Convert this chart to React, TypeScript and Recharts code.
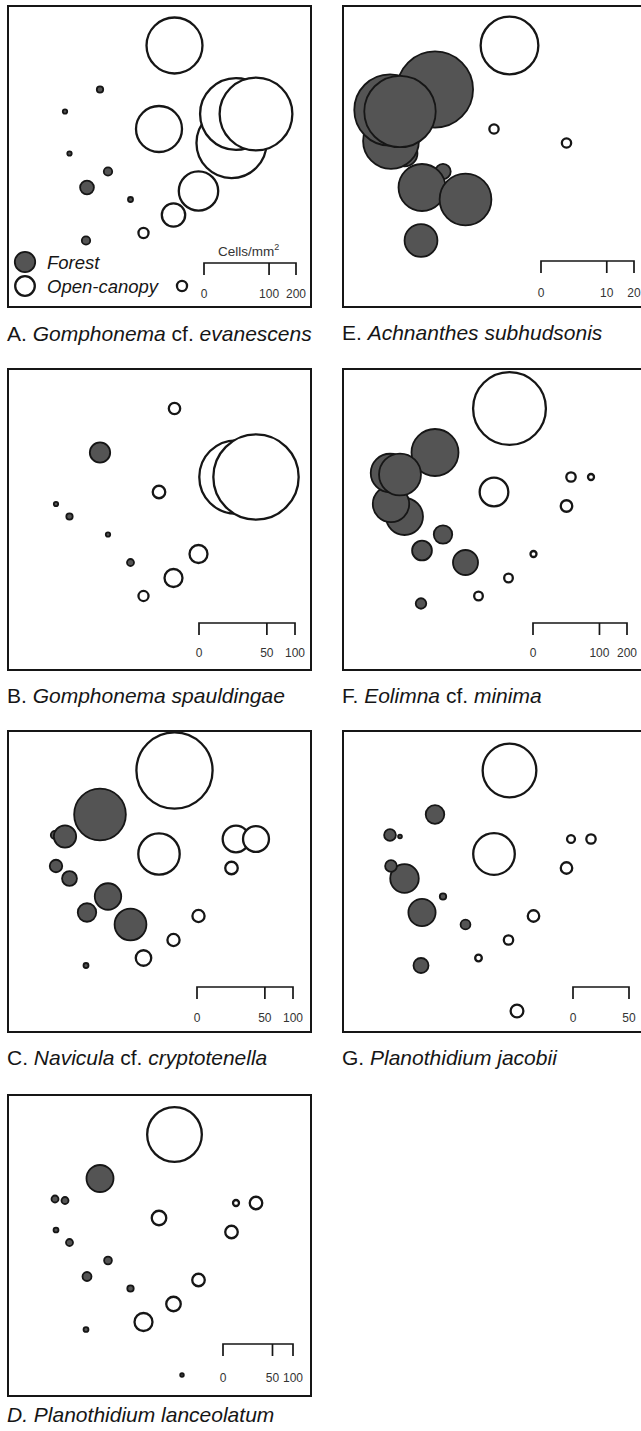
import React from "react";
import { ScatterChart, Scatter, XAxis, YAxis, ZAxis } from "recharts";

// map frame size (site coordinates are measured from the frame's top-left corner)
const FRAME_W = 305;
const FRAME_H = 303;

// forest sites, in drawing order
const forestSites = ["Fa", "Fd", "Fc", "Fb2", "Fb1", "Fe", "Ff", "Fg", "Fh"];
const forestEast = [93, 62.5, 49, 48, 58, 101, 80, 123.5, 79];
const forestSouth = [84.5, 148.5, 136, 105, 106.5, 166.5, 182.5, 194.5, 235.5];

// open-canopy sites, in drawing order
const openSites = ["O4", "O3a", "O3b", "O1", "O2", "O5", "O6", "O7", "O8"];
const openEast = [224.5, 229, 249, 167.5, 152, 191.5, 166.5, 136.5, 175];
const openSouth = [138, 109, 109, 40.5, 124, 186, 210, 228, 281];

// cells/mm2 at each site (same order as the site arrays)
const evanescensForest = [0.97, 0.46, 0, 0, 0.46, 1.67, 4.5, 0.6, 1.67];
const evanescensOpen = [116, 122, 125, 74, 50, 36.7, 12.9, 2.4, 2.4];

const spauldingaeForest = [4.5, 0.44, 0.21, 0, 0, 0.21, 0, 0.53, 0];
const spauldingaeOpen = [0, 58.5, 79, 1.4, 1.7, 3.5, 3.5, 1.1, 0];

const cryptotenellaForest = [29, 2.4, 1.7, 0.77, 5.4, 7.6, 3.7, 11, 0.27];
const cryptotenellaOpen = [1.7, 7.7, 7.3, 63, 18.6, 1.6, 1.6, 2.6, 0];

const lanceolatumForest = [14.9, 1.0, 0.5, 1.0, 1.0, 1.24, 1.65, 0.84, 0.5];
const lanceolatumOpen = [3.2, 0.73, 3.2, 61, 4.3, 3.2, 4.3, 6.6, 0.2];

const subhudsonisForest = [13.4, 1.55, 7.2, 11.8, 11.8, 0.55, 5.1, 6.2, 2.5];
const subhudsonisOpen = [0.2, 0, 0, 7.7, 0.2, 0, 0, 0, 0];

const minimaForest = [50, 31, 30, 33.6, 39.8, 7.7, 8.9, 14.2, 2.5];
const minimaOpen = [3.0, 2.0, 0.82, 120, 18.6, 0.82, 1.7, 1.7, 0];

const jacobiiForest = [5.5, 13, 2.2, 2.2, 0.23, 0.66, 11.8, 1.55, 3.6];
const jacobiiOpen = [2.1, 1.0, 1.4, 46, 27.6, 2.1, 1.4, 0.7, 2.6];

// scale bar ticks (cells/mm2)
const ticksA = [0, 100, 200];
const ticksB = [0, 50, 100];
const ticksC = [0, 50, 100];
const ticksD = [0, 50, 100];
const ticksE = [0, 10, 20];
const ticksF = [0, 100, 200];
const ticksG = [0, 50];

type Part = [string, boolean];

const panels = [
  {
    id: "A", left: 7, top: 5, base: 341,
    caption: [["A. ", false], ["Gomphonema", true], [" cf. ", false], ["evanescens", true]] as Part[],
    forest: evanescensForest, open: evanescensOpen, ticks: ticksA,
    bar: { x: 197, y: 258, len: 92, labelY: 293 }, legend: true,
  },
  {
    id: "B", left: 7, top: 368, base: 703,
    caption: [["B. ", false], ["Gomphonema spauldingae", true]] as Part[],
    forest: spauldingaeForest, open: spauldingaeOpen, ticks: ticksB,
    bar: { x: 192, y: 255, len: 96, labelY: 289 },
  },
  {
    id: "C", left: 7, top: 730, base: 1065,
    caption: [["C. ", false], ["Navicula", true], [" cf. ", false], ["cryptotenella", true]] as Part[],
    forest: cryptotenellaForest, open: cryptotenellaOpen, ticks: ticksC,
    bar: { x: 190, y: 257, len: 96, labelY: 292 },
  },
  {
    id: "D", left: 7, top: 1094, base: 1422,
    caption: [["D. Planothidium lanceolatum", true]] as Part[],
    forest: lanceolatumForest, open: lanceolatumOpen, ticks: ticksD,
    bar: { x: 216, y: 250, len: 70, labelY: 288 },
  },
  {
    id: "E", left: 342, top: 5, base: 340,
    caption: [["E. ", false], ["Achnanthes subhudsonis", true]] as Part[],
    forest: subhudsonisForest, open: subhudsonisOpen, ticks: ticksE,
    bar: { x: 199, y: 256, len: 93, labelY: 292 },
  },
  {
    id: "F", left: 342, top: 368, base: 703,
    caption: [["F. ", false], ["Eolimna", true], [" cf. ", false], ["minima", true]] as Part[],
    forest: minimaForest, open: minimaOpen, ticks: ticksF,
    bar: { x: 191, y: 255, len: 94, labelY: 289 },
  },
  {
    id: "G", left: 342, top: 730, base: 1065,
    caption: [["G. ", false], ["Planothidium jacobii", true]] as Part[],
    forest: jacobiiForest, open: jacobiiOpen, ticks: ticksG,
    bar: { x: 231, y: 257, len: 56, labelY: 292 },
  },
];

const FONT = "'Liberation Sans', Arial, Helvetica, sans-serif";
const INK = "#161616";
const FOREST_FILL = "#545454";

const bubble = (fill: string, strokeWidth: number) => (props: any) => {
  const r =
    props.width != null
      ? props.width / 2
      : Math.sqrt(Math.max(props.size || 0, 0) / Math.PI);
  return (
    <circle
      cx={props.cx}
      cy={props.cy}
      r={r}
      fill={fill}
      stroke={INK}
      strokeWidth={strokeWidth}
    />
  );
};

const forestShape = bubble(FOREST_FILL, 1.8);
const openShape = bubble("#ffffff", 2.3);

function MapPanel({ p }: { p: (typeof panels)[number] }) {
  const max = p.ticks[p.ticks.length - 1];
  // scale bar length = diameter of a max-value circle
  const maxArea = Math.PI * (p.bar.len / 2) ** 2;
  const diam = (v: number) => p.bar.len * Math.sqrt(v / max);

  const forestData = forestSites
    .map((site, i) => ({ site, x: forestEast[i], y: forestSouth[i], z: p.forest[i] }))
    .filter((d) => d.z > 0);
  const openData = openSites
    .map((site, i) => ({ site, x: openEast[i], y: openSouth[i], z: p.open[i] }))
    .filter((d) => d.z > 0);

  const { x, y, len, labelY } = p.bar;
  const tickLen = 12;

  return (
    <div
      style={{
        position: "absolute",
        left: p.left,
        top: p.top,
        width: FRAME_W,
        height: FRAME_H,
      }}
    >
      <ScatterChart
        width={FRAME_W}
        height={FRAME_H}
        margin={{ top: 0, right: 0, bottom: 0, left: 0 }}
      >
        <XAxis type="number" dataKey="x" domain={[0, FRAME_W]} allowDataOverflow hide />
        <YAxis type="number" dataKey="y" domain={[0, FRAME_H]} allowDataOverflow reversed hide />
        <ZAxis type="number" dataKey="z" domain={[0, max]} range={[0, maxArea]} />
        <Scatter data={forestData} shape={forestShape} isAnimationActive={false} />
        <Scatter data={openData} shape={openShape} isAnimationActive={false} />
      </ScatterChart>

      {/* frame */}
      <div
        style={{
          position: "absolute",
          left: 0,
          top: 0,
          width: FRAME_W,
          height: FRAME_H,
          border: `2.5px solid ${INK}`,
          boxSizing: "border-box",
          pointerEvents: "none",
        }}
      />

      {/* scale bar, legend and caption */}
      <svg
        width={FRAME_W}
        height={FRAME_H + 40}
        style={{ position: "absolute", left: 0, top: 0, overflow: "visible" }}
        fontFamily={FONT}
      >
        <path
          d={
            `M${x},${y + tickLen}V${y}H${x + len}V${y + tickLen}` +
            p.ticks
              .slice(1, -1)
              .map((t) => `M${x + diam(t)},${y}V${y + tickLen}`)
              .join("")
          }
          fill="none"
          stroke={INK}
          strokeWidth={1.7}
        />
        {p.ticks.map((t) => (
          <text
            key={t}
            x={x + diam(t)}
            y={labelY}
            textAnchor="middle"
            fontSize={12}
            fill="#333"
          >
            {t}
          </text>
        ))}

        {p.legend && (
          <g>
            <text x={211} y={251} fontSize={13.5} fill="#333">
              Cells/mm
              <tspan dy={-6} fontSize={9}>
                2
              </tspan>
            </text>
            <circle cx={18} cy={257} r={10.2} fill={FOREST_FILL} stroke={INK} strokeWidth={1.8} />
            <circle cx={18} cy={281} r={9.8} fill="#fff" stroke={INK} strokeWidth={2.3} />
            <text x={40} y={264} fontSize={18.5} fontStyle="italic" fill={INK}>
              Forest
            </text>
            <text x={40} y={288} fontSize={18.5} fontStyle="italic" fill={INK}>
              Open-canopy
            </text>
          </g>
        )}

        <text x={0} y={p.base - p.top} fontSize={21} fill={INK}>
          {p.caption.map(([s, it], i) => (
            <tspan key={i} fontStyle={it ? "italic" : "normal"}>
              {s}
            </tspan>
          ))}
        </text>
      </svg>
    </div>
  );
}

export default function App() {
  return (
    <div
      style={{
        position: "absolute",
        left: 0,
        top: 0,
        width: 641,
        height: 1431,
        overflow: "hidden",
        background: "#ffffff",
      }}
    >
      {panels.map((p) => (
        <MapPanel key={p.id} p={p} />
      ))}
    </div>
  );
}
